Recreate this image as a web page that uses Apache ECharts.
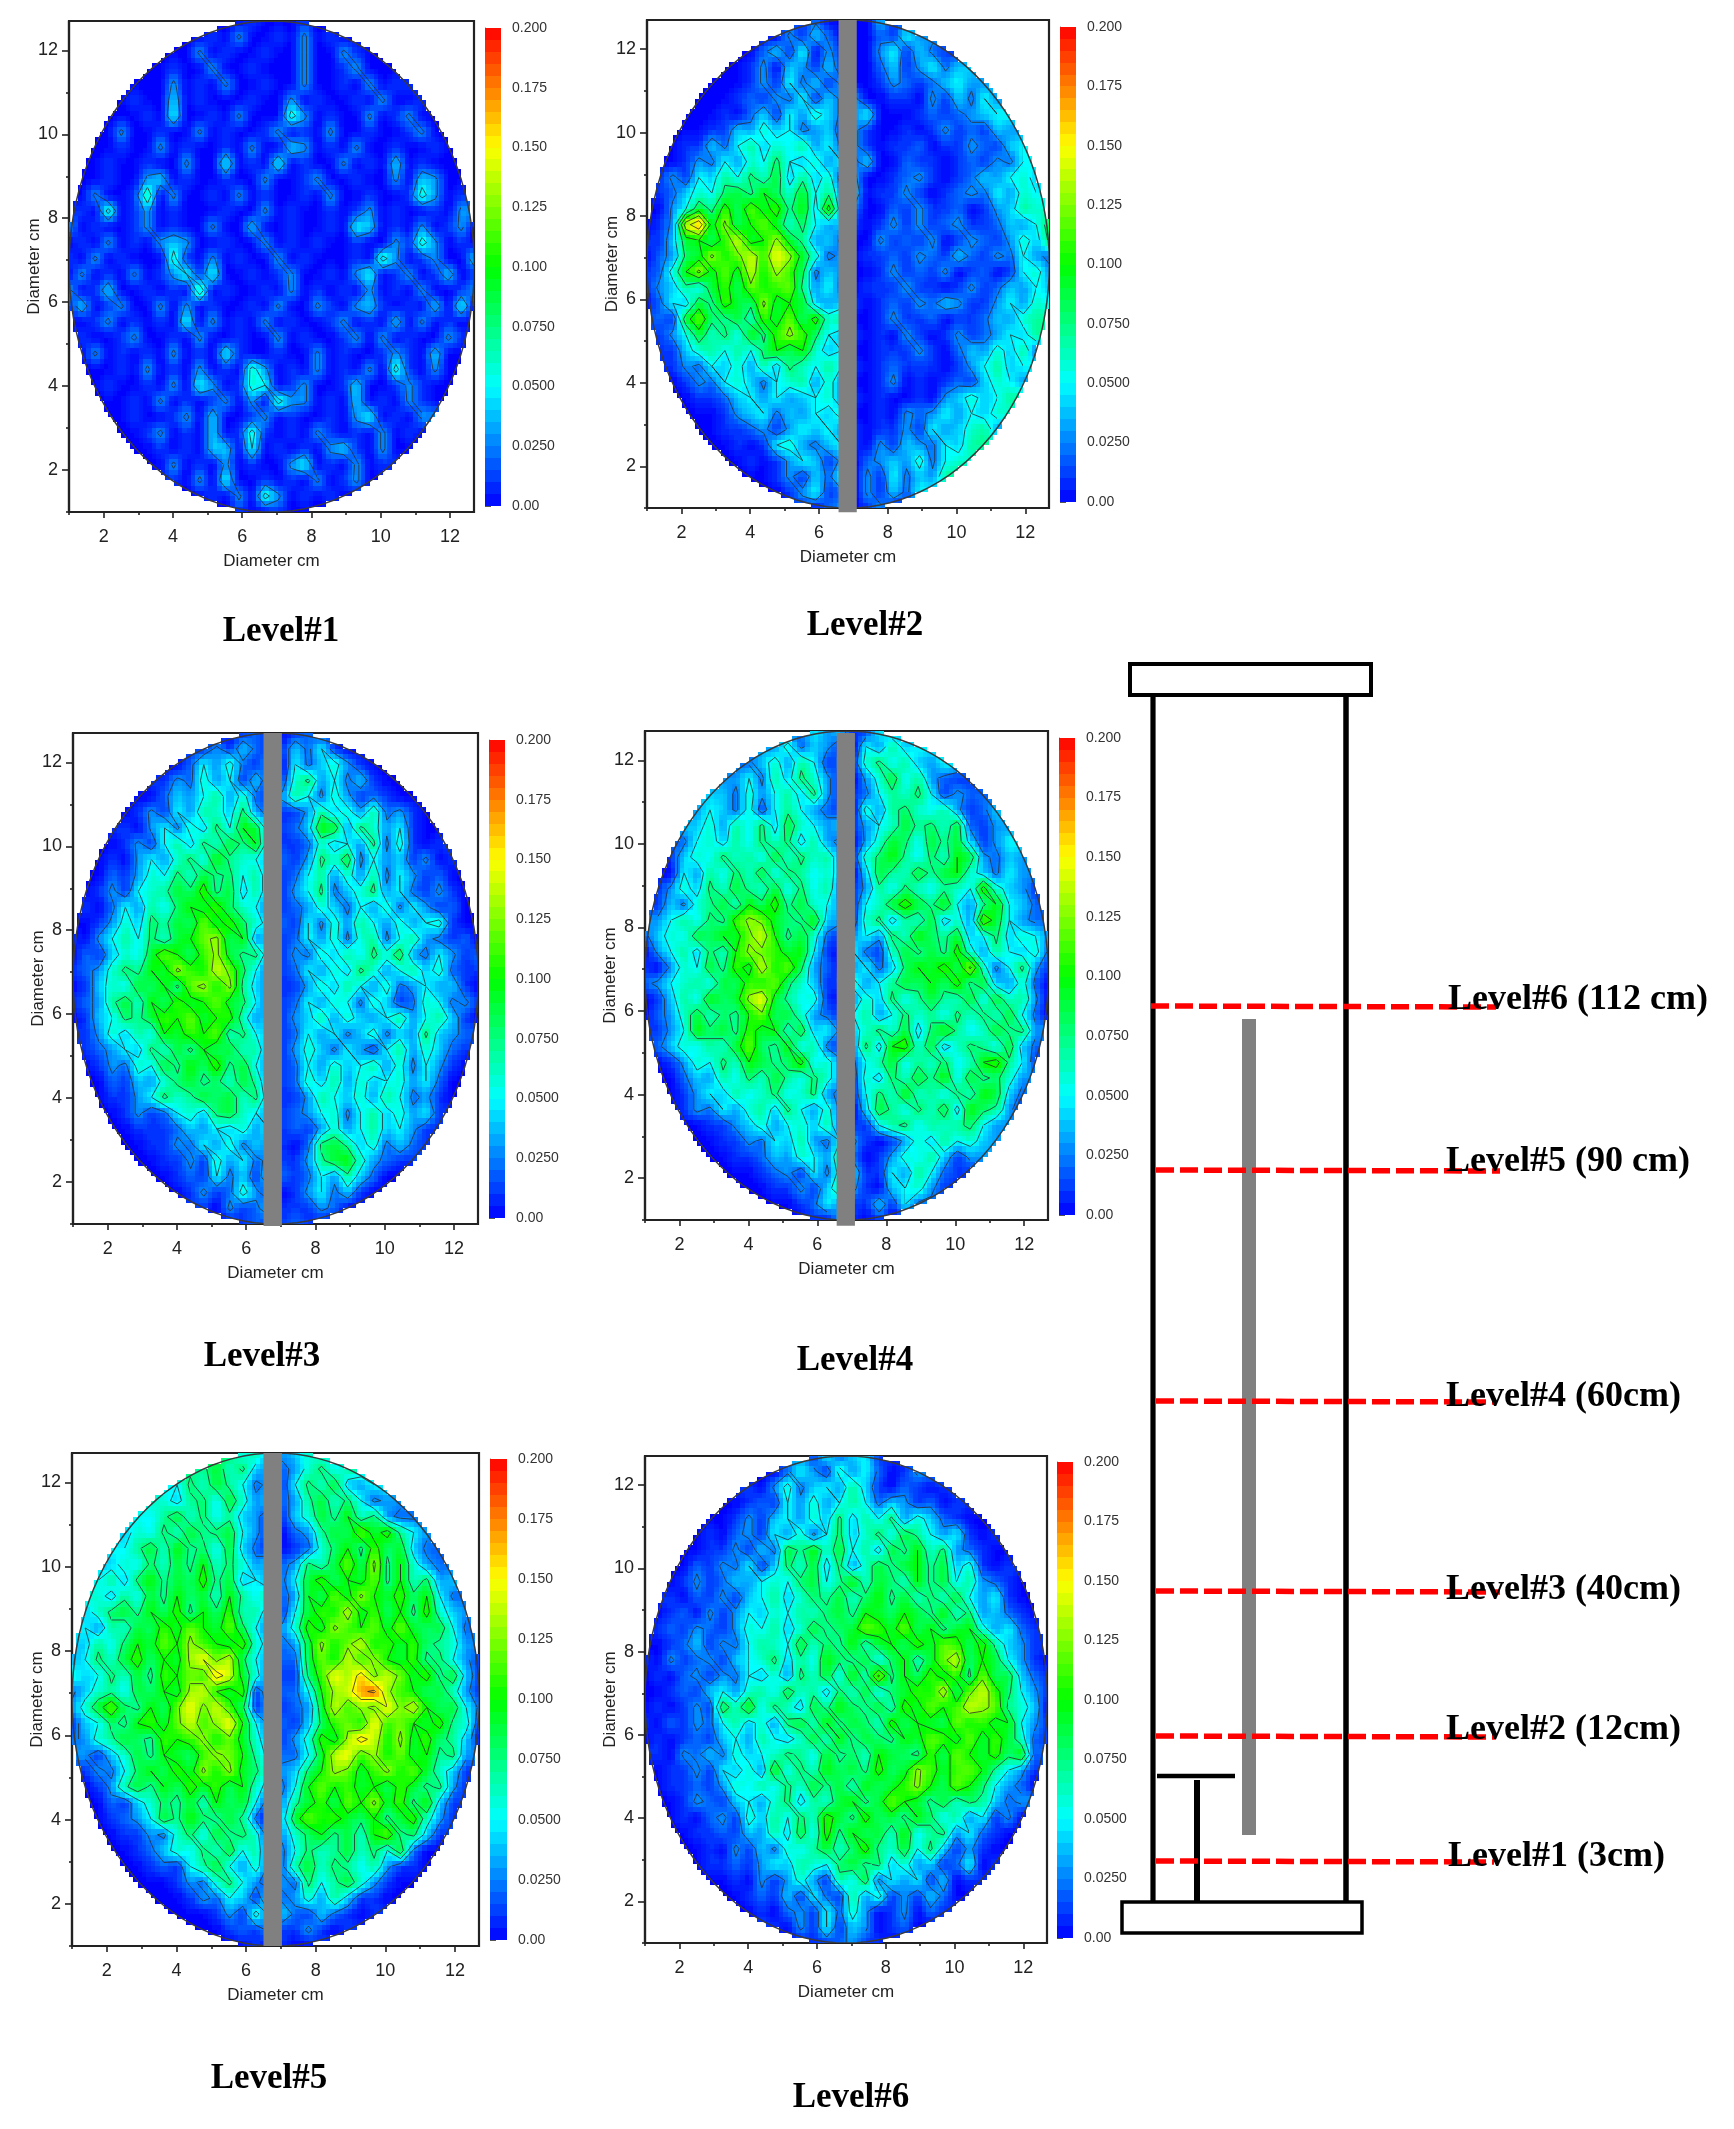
<!doctype html>
<html>
    <head>
        <meta charset="utf-8">
        <title>Gas holdup by level</title>
        <style>html,body{margin:0;background:#fff}#main{width:1734px;height:2129px}</style>
    </head>
    <body>
        <div id="main"></div>
        <script src="https://cdn.jsdelivr.net/npm/echarts@6/dist/echarts.min.js"></script>
        <script>
            // gas holdup, in hundredths. 32 rows, top row first,
            // each row holds only the nodes inside the circle and is centred when drawn
            var level1 = [
                [0,0,1,0,0,0,1,0],
                [0,1,0,3,0,0,1,0,3,0,1,0],
                [0,0,3,0,1,0,0,1,0,0,3,0,0,3,1,0],
                [0,1,0,0,3,0,0,1,0,0,0,3,0,0,1,3,0,0],
                [0,0,3,0,1,0,3,0,0,1,0,0,3,0,0,1,0,3,0,1],
                [0,1,0,0,4,0,1,0,0,0,1,0,0,3,0,1,0,0,1,0,3,0,0,1],
                [0,0,1,0,5,0,0,1,0,3,0,0,0,6,3,0,1,0,0,3,0,1,3,0],
                [0,3,0,0,1,0,0,3,0,1,0,0,1,3,0,1,0,3,0,0,1,0,0,1,3,0],
                [0,0,1,0,0,3,0,1,0,0,1,0,3,0,0,4,3,0,1,0,3,0,0,1,0,0,1,0],
                [0,1,0,0,1,0,0,3,0,0,5,0,1,0,5,0,1,0,0,3,0,1,0,4,0,1,0,0],
                [0,0,1,0,0,3,4,0,1,0,0,1,0,0,3,0,0,1,3,0,0,1,0,0,3,0,4,3,0,0],
                [0,3,0,0,1,7,0,3,0,0,1,0,3,0,1,0,0,1,0,3,0,0,1,0,0,1,6,3,0,1],
                [1,0,6,0,1,3,0,1,0,0,0,1,0,0,3,0,1,0,0,1,0,1,3,0,1,0,0,1,0,3],
                [3,0,1,0,0,1,3,0,1,0,0,3,0,0,4,0,0,1,0,0,1,0,5,4,0,1,0,3,0,1,3,0],
                [0,1,0,3,0,1,0,3,4,3,0,0,1,0,0,3,0,1,0,1,0,0,1,0,0,3,1,6,3,0,1,0],
                [1,0,3,0,1,0,0,0,6,1,0,3,0,1,0,0,3,0,1,0,0,0,1,0,6,3,0,1,3,0,0,4],
                [0,3,0,1,0,3,0,1,3,5,1,5,0,0,1,0,1,3,0,0,1,0,3,5,0,1,3,0,1,4,0,1],
                [3,0,1,4,0,0,1,0,1,0,7,0,1,0,0,1,0,3,0,1,0,1,0,3,0,1,0,3,0,0,1,3],
                [1,4,0,1,3,0,0,3,0,3,0,1,0,0,1,0,3,0,0,3,1,0,3,4,1,0,1,0,4,0,5,0],
                [0,1,3,0,1,0,1,0,5,0,3,0,1,0,3,0,1,0,0,1,3,0,1,0,4,0,3,0,1,0],
                [1,0,0,1,3,0,0,1,0,3,0,0,1,0,0,3,0,1,0,0,1,3,0,3,0,1,0,0,3,1],
                [0,3,0,1,0,1,0,3,0,1,0,5,1,0,0,1,0,0,3,0,1,0,0,1,3,1,0,4,0,0],
                [0,0,1,0,3,0,1,0,3,0,1,0,6,3,0,1,0,3,0,1,0,3,0,6,1,0,3,0],
                [0,1,0,0,1,0,3,0,5,3,0,1,6,5,0,1,3,0,0,1,4,0,0,1,3,1,0,0],
                [0,0,1,0,3,0,1,0,1,3,0,3,0,6,3,3,0,1,0,4,0,1,0,3,1,0],
                [0,1,0,0,1,3,0,4,0,0,1,3,0,1,0,0,1,0,3,5,0,1,0,3],
                [0,0,1,3,0,1,0,4,0,1,6,1,0,1,0,3,1,0,1,0,3,0,1,0],
                [0,1,0,1,0,4,4,0,5,0,1,0,1,0,3,4,1,0,3,0],
                [0,3,0,1,0,3,0,1,0,0,3,5,0,1,0,3,0,1],
                [1,0,3,0,5,0,0,1,0,1,0,3,0,1,3,0],
                [0,1,0,3,0,6,3,0,1,0,1,0],
                [0,1,0,0,1,0,0,0]
            ];
            var level2 = [
                [1,2,0,0,0,0,4,1],
                [0,3,1,4,2,0,0,0,2,1,5,3],
                [0,2,4,1,5,0,3,1,0,0,3,5,1,4,2,1],
                [0,1,3,0,4,3,1,4,1,0,0,2,4,1,3,5,2,4],
                [0,0,1,3,1,5,2,4,1,3,0,0,1,3,2,1,2,4,5,3],
                [0,0,0,1,2,1,3,2,5,1,4,2,3,0,0,1,1,0,3,1,4,2,5,3],
                [0,0,1,0,2,4,1,5,3,6,4,2,3,5,0,0,0,1,2,1,2,3,4,5],
                [0,0,1,1,4,3,6,4,5,2,3,4,1,3,1,0,0,1,0,1,3,1,2,1,4,3],
                [0,1,1,4,2,5,7,4,6,5,7,3,5,2,3,1,0,1,1,2,0,1,1,3,2,1,4,5],
                [0,1,3,2,5,3,6,5,8,5,4,6,3,5,2,4,0,0,2,1,1,0,1,2,1,3,2,5],
                [1,3,1,5,4,7,5,8,6,9,4,7,4,6,1,3,0,0,1,2,3,1,0,1,2,4,3,5,6,4],
                [1,2,4,6,5,8,9,7,10,8,6,9,5,7,3,4,0,1,1,3,1,0,1,2,3,2,5,3,6,5],
                [0,3,5,9,7,11,8,12,9,11,7,10,4,11,3,2,0,0,2,1,3,1,1,2,0,1,3,4,7,6],
                [0,1,3,14,17,9,13,8,10,12,9,6,8,5,3,4,1,0,1,3,1,3,1,2,3,1,1,2,4,3,5,9],
                [1,1,4,9,10,8,11,14,9,10,13,9,7,3,4,2,0,0,3,1,2,1,3,0,1,3,2,1,3,6,4,8],
                [0,2,3,8,9,13,10,12,14,11,15,13,9,6,2,3,0,1,1,2,1,3,2,1,4,2,1,3,2,5,3,2],
                [1,2,6,10,13,9,12,9,14,10,13,11,8,2,4,3,0,0,1,3,1,2,1,3,0,1,2,0,1,5,6,3],
                [1,3,4,7,5,9,11,8,12,10,11,12,7,3,5,2,0,1,1,1,3,1,1,0,1,3,1,2,4,3,5,4],
                [0,2,5,4,9,7,11,9,8,13,9,10,9,4,3,4,1,0,1,2,1,3,2,4,3,1,1,3,5,3,6,5],
                [2,1,9,12,8,7,9,6,11,9,12,8,11,6,7,0,0,1,3,1,1,2,0,1,1,2,4,3,6,7],
                [1,3,5,9,6,8,5,10,7,11,13,11,8,5,4,1,0,1,0,3,1,0,1,3,1,2,3,5,4,7],
                [1,1,4,6,7,5,7,5,8,10,8,10,6,4,5,0,0,1,1,1,3,1,0,2,4,3,6,4,7,2],
                [1,3,2,5,4,6,3,7,4,8,6,5,7,5,1,0,1,2,1,1,1,0,1,3,5,7,4,5],
                [0,1,3,2,5,6,4,2,5,6,7,3,6,3,0,0,1,3,0,1,0,1,2,1,4,6,5,3],
                [0,1,1,2,4,5,3,5,3,4,5,6,3,1,0,1,0,0,1,0,3,4,6,4,5,7],
                [0,0,1,3,4,5,2,4,3,5,4,6,0,0,1,0,3,2,3,5,3,5,4,6],
                [0,0,1,1,2,3,1,3,5,4,5,3,1,0,1,1,3,1,5,3,4,6,7,3],
                [0,1,0,1,5,6,3,2,4,5,1,0,3,1,4,3,2,5,4,7],
                [0,1,0,1,3,5,4,1,3,0,2,3,4,3,6,2,5,6],
                [0,0,1,3,1,4,2,5,0,3,1,5,2,4,3,7],
                [0,1,3,5,1,2,0,3,1,4,2,5],
                [1,0,2,3,0,1,3,0]
            ];
            var level3 = [
                [0,1,2,1,0,1,2,1],
                [1,3,1,4,2,1,1,4,2,5,1,0],
                [0,2,5,3,6,2,1,3,0,5,2,4,6,3,1,0],
                [1,3,2,6,3,5,1,4,1,1,6,8,3,5,2,4,1,0],
                [0,2,4,3,5,7,3,6,2,1,3,7,5,2,6,3,1,2,1,0],
                [0,1,3,1,5,3,7,6,4,8,3,2,1,1,3,7,4,6,3,7,2,3,1,0],
                [1,0,3,5,2,6,4,8,5,10,9,3,1,2,4,10,9,3,8,6,3,5,1,0],
                [0,1,3,1,5,7,4,8,6,9,7,10,3,1,1,2,6,4,5,3,8,2,6,1,0,1],
                [0,1,0,3,5,3,6,8,5,10,7,6,5,4,2,1,3,8,6,9,2,5,3,4,1,3,0,1],
                [0,2,1,3,6,5,8,6,9,7,8,5,7,3,1,2,5,7,3,6,3,7,2,5,3,1,2,0],
                [0,1,3,1,5,6,7,9,8,11,7,9,4,7,3,1,3,5,8,2,4,6,8,3,5,2,1,3,1,0],
                [1,0,2,5,3,7,5,8,10,9,11,8,6,5,2,1,2,3,6,4,2,5,3,6,2,5,3,1,2,0],
                [0,1,3,6,4,8,7,9,8,12,9,11,8,6,4,2,1,5,2,6,3,7,5,3,6,3,5,6,1,0],
                [1,0,3,5,7,5,8,6,9,10,12,13,8,10,3,4,1,2,5,3,6,2,6,7,2,5,7,3,2,1,2,0],
                [0,2,1,4,6,5,9,12,10,8,11,13,9,7,8,3,1,3,2,6,4,7,5,8,6,9,3,2,5,3,1,2],
                [1,2,3,6,8,7,10,9,13,11,10,14,12,8,5,2,1,2,5,3,6,4,8,6,3,5,7,4,6,2,1,1],
                [0,1,4,6,5,9,8,10,7,12,13,10,13,7,4,3,1,1,3,6,4,7,5,3,6,2,3,5,3,4,1,0],
                [1,2,3,7,9,6,10,8,11,9,10,12,9,8,5,2,1,2,5,3,6,5,2,6,4,1,2,6,5,2,3,1],
                [0,1,4,5,8,7,9,11,10,12,9,10,11,6,3,4,1,3,4,7,3,6,4,3,5,7,3,5,7,4,1,0],
                [1,3,6,4,7,5,10,9,11,10,12,6,8,5,4,1,2,5,3,5,2,4,6,2,4,3,8,4,3,2],
                [1,2,3,5,4,8,6,9,7,10,8,9,6,7,2,1,3,6,4,2,5,3,1,5,7,3,6,4,2,1],
                [0,1,3,2,6,5,9,7,10,8,11,7,9,5,3,1,2,5,3,6,4,5,7,3,6,2,5,3,1,0],
                [0,2,1,4,3,6,8,9,7,8,6,9,7,2,1,2,6,4,7,3,6,4,5,6,3,5,2,0],
                [0,1,1,3,5,8,6,7,9,8,9,6,8,3,1,1,3,7,5,4,6,3,7,5,2,3,1,0],
                [0,1,3,1,2,5,6,4,8,9,6,5,3,1,2,3,5,6,2,5,7,4,6,3,5,1],
                [0,1,1,1,2,4,3,5,4,6,3,5,1,2,1,3,6,3,5,7,4,5,3,1],
                [0,0,1,1,3,2,5,3,6,2,4,3,1,0,2,8,9,7,4,6,2,4,2,1],
                [0,1,1,3,1,6,3,5,2,3,1,1,3,7,9,10,6,3,2,1],
                [0,1,2,1,5,2,4,1,5,2,1,2,5,3,7,4,2,0],
                [0,1,3,1,2,6,3,1,0,1,3,5,2,4,1,0],
                [1,0,3,1,2,4,1,1,1,3,2,0],
                [0,1,2,1,1,2,1,0]
            ];
            var level4 = [
                [2,5,3,4,1,1,5,3],
                [3,6,2,4,3,1,0,5,3,7,4,5],
                [2,4,6,3,7,5,1,2,1,6,8,5,7,4,3,5],
                [3,5,2,7,4,8,6,3,1,0,3,6,9,5,7,3,2,1],
                [4,2,6,3,5,7,4,8,3,1,1,2,5,7,6,8,5,1,3,2],
                [3,5,4,2,6,1,5,7,5,3,2,1,0,6,3,7,8,6,5,7,3,1,2,4],
                [4,6,3,7,5,8,4,9,6,5,3,4,1,3,5,6,9,7,8,6,9,2,1,3],
                [2,5,6,4,7,5,8,6,8,4,7,3,2,0,3,6,9,8,5,9,7,9,4,1,3,5],
                [1,4,6,5,8,6,7,5,9,6,8,6,7,3,1,6,8,10,7,5,8,6,10,9,3,2,4,3],
                [0,5,3,7,5,8,6,9,5,8,7,5,6,4,0,4,9,7,6,9,7,9,10,6,4,2,5,3],
                [1,3,6,4,8,6,9,7,6,9,5,8,5,7,2,1,3,7,5,8,6,5,7,6,5,11,6,4,3,1],
                [1,4,2,6,7,9,6,10,8,11,7,9,6,5,3,1,5,6,9,11,9,7,10,5,3,7,10,5,4,2],
                [3,5,7,5,8,7,11,13,12,9,8,7,10,4,3,1,6,8,4,7,6,9,4,6,3,12,9,5,3,2],
                [2,4,6,5,9,8,10,9,12,14,10,7,9,6,2,1,3,5,3,8,6,10,8,7,9,4,5,8,4,6,5,3],
                [0,3,5,7,4,8,6,10,13,12,11,9,10,5,1,0,5,2,1,6,9,7,9,7,11,6,3,7,5,4,6,2],
                [1,0,3,6,5,9,7,11,9,14,10,12,8,3,2,0,3,5,2,4,8,10,9,11,8,13,6,2,5,8,3,1],
                [2,3,5,6,7,5,9,8,11,10,12,8,6,4,1,1,6,3,5,7,9,8,10,8,11,7,9,4,3,6,2,0],
                [0,1,4,7,5,10,8,9,13,15,9,7,5,6,1,0,3,6,4,8,5,7,9,7,6,9,5,9,6,7,3,0],
                [0,2,3,6,9,6,8,7,10,12,8,9,6,3,2,1,5,7,3,5,8,6,7,5,8,6,8,6,9,5,2,0],
                [1,3,5,10,8,9,7,11,9,10,6,9,4,5,2,4,6,8,6,9,4,8,10,7,5,6,9,7,8,3],
                [2,4,6,5,7,6,9,12,8,7,10,5,7,2,1,3,8,4,10,11,6,9,4,6,8,7,5,9,4,2],
                [0,1,3,6,5,8,6,10,9,7,8,11,5,6,3,2,5,7,9,5,7,6,8,5,6,10,11,7,5,1],
                [0,2,4,3,7,5,8,6,9,7,5,8,6,3,1,6,4,8,6,9,7,10,5,9,7,8,6,3],
                [0,1,3,5,4,7,5,6,8,5,6,8,3,2,1,5,8,6,10,6,7,5,8,6,10,9,4,2],
                [0,1,3,2,5,3,6,7,4,8,5,3,6,2,0,4,9,7,5,8,6,9,4,10,8,7,3,1],
                [0,1,1,3,4,6,3,5,6,4,7,2,1,1,5,7,8,5,7,6,7,8,5,3],
                [0,0,1,1,3,2,5,4,7,3,2,5,3,1,0,1,3,6,4,7,5,6,4,3],
                [0,1,1,2,4,3,6,5,3,7,2,0,1,3,6,5,7,4,1,3],
                [0,0,1,2,3,1,5,2,6,4,1,1,5,3,7,5,2,1],
                [0,0,1,1,3,1,4,7,3,1,0,4,5,6,3,1],
                [0,0,1,2,5,3,1,1,4,1,5,2],
                [0,1,0,3,1,0,1,0]
            ];
            var level5 = [
                [8,5,7,3,3,4,6,5],
                [7,9,6,8,4,3,2,3,6,8,5,7],
                [5,8,6,9,7,5,2,3,1,5,8,6,9,4,3,5],
                [6,4,7,8,5,9,6,3,4,2,3,7,9,6,8,5,2,3],
                [5,7,9,6,8,5,7,4,3,1,1,4,6,9,7,10,6,8,3,2],
                [4,6,5,8,6,9,7,8,9,5,3,1,0,2,3,7,9,8,12,9,11,7,5,3],
                [5,7,9,6,10,7,8,5,9,4,2,1,0,1,2,6,8,10,7,11,8,9,4,2],
                [4,6,5,8,6,9,7,10,6,8,6,3,4,2,3,8,6,9,12,8,13,7,10,6,3,2],
                [5,7,4,8,10,7,9,8,11,7,9,4,5,3,2,5,9,11,8,10,9,12,7,10,6,8,3,4],
                [6,4,7,5,9,7,10,8,9,6,10,7,5,7,2,3,10,8,12,9,13,10,9,11,8,10,5,2],
                [4,6,8,9,7,10,8,11,7,10,8,11,6,7,3,1,5,9,11,10,14,9,11,8,10,7,11,6,4,3],
                [5,3,7,6,9,8,11,9,12,10,9,12,8,5,2,3,6,11,9,13,11,10,12,9,12,9,8,9,5,2],
                [4,7,5,8,10,9,12,10,13,11,10,9,11,6,4,2,3,9,13,10,12,14,10,11,9,11,8,7,6,3],
                [3,5,8,6,9,11,8,10,9,13,15,12,14,8,5,3,2,2,9,12,10,14,11,13,10,9,11,7,8,5,3,1],
                [6,4,5,8,6,9,7,11,10,12,11,16,14,9,6,2,1,1,8,11,15,13,16,12,14,12,9,11,7,9,4,1],
                [2,4,6,7,5,9,8,10,9,13,14,10,9,11,1,4,2,2,5,10,13,14,17,18,13,11,10,8,9,6,3,1],
                [3,6,9,12,8,7,10,8,12,15,12,14,11,8,1,3,1,2,3,9,14,11,13,12,15,12,14,10,8,9,5,2],
                [1,4,5,8,7,10,11,9,12,14,11,13,15,10,5,2,2,1,4,8,11,12,10,15,11,12,10,9,11,7,6,1],
                [2,3,6,7,9,8,7,11,10,11,13,10,12,9,6,3,1,3,6,11,9,13,16,14,10,13,9,11,8,7,4,0],
                [3,1,4,6,9,7,10,9,8,11,13,12,10,7,4,2,2,5,9,14,15,11,13,10,12,9,10,7,8,3],
                [1,3,2,5,8,10,8,11,9,13,10,13,9,8,5,3,4,8,10,13,12,9,11,13,10,12,9,6,4,1],
                [0,1,3,7,9,7,10,8,11,9,11,8,10,6,4,2,5,10,12,10,11,9,10,8,11,9,7,8,3,1],
                [0,2,1,4,6,8,7,9,6,10,8,9,5,1,3,7,9,11,8,12,10,13,9,11,7,10,4,1],
                [0,1,2,3,5,9,7,10,8,7,9,7,2,0,4,9,12,10,11,9,8,10,7,9,11,6,3,1],
                [0,1,1,3,2,6,8,5,9,7,8,6,1,3,6,8,10,7,9,6,10,12,7,8,4,1],
                [0,1,2,4,6,5,8,6,9,5,7,1,2,5,8,6,7,9,6,8,5,9,2,0],
                [0,0,1,2,1,5,7,9,5,3,6,2,2,7,9,6,8,7,5,7,3,1,1,0],
                [0,0,1,3,2,6,8,5,3,1,3,2,8,5,7,9,6,3,1,0],
                [0,0,1,3,2,5,4,1,5,2,3,6,3,7,4,1,1,0],
                [0,0,0,1,3,1,6,2,4,2,1,4,2,1,0,1],
                [0,0,1,2,1,3,1,1,3,1,0,1],
                [0,0,1,0,1,0,0,1]
            ];
            var level6 = [
                [3,1,5,2,4,5,1,1],
                [0,2,5,3,1,6,3,5,2,0,1,3],
                [1,0,3,6,2,4,5,3,7,4,1,0,2,1,0,1],
                [0,1,2,1,5,3,6,3,5,7,5,2,4,3,1,2,0,1],
                [0,1,3,1,4,5,3,6,4,8,4,7,5,8,3,6,4,2,1,0],
                [0,1,0,2,3,1,5,3,6,2,5,8,4,6,8,5,9,7,5,3,5,1,0,1],
                [0,1,1,3,1,4,2,9,7,10,6,9,5,7,4,9,7,10,6,8,3,2,1,0],
                [0,2,1,3,2,5,1,4,8,6,9,4,8,3,6,9,7,9,10,7,9,4,6,1,0,1],
                [0,1,3,1,2,4,3,5,6,5,8,9,5,7,10,6,9,8,6,10,7,9,5,7,3,2,1,0],
                [1,0,2,1,3,1,4,5,7,4,6,8,7,9,6,8,10,7,9,6,8,6,9,5,3,5,1,0],
                [0,1,2,0,3,1,3,5,4,6,5,7,6,8,9,7,10,9,8,10,9,7,10,6,8,3,4,2,1,0],
                [1,2,1,3,2,1,3,6,5,7,4,6,9,7,8,9,12,11,9,12,8,10,7,9,10,6,3,5,2,1],
                [0,1,2,4,1,3,2,5,7,6,5,9,6,8,7,10,6,9,10,8,11,9,12,11,8,11,7,4,3,1],
                [1,0,3,1,2,3,1,4,5,6,8,4,7,5,10,8,7,9,5,8,10,6,9,12,14,8,10,9,5,3,1,0],
                [0,1,0,2,3,1,3,2,5,4,6,3,8,6,9,5,10,6,13,7,10,8,11,9,11,7,12,8,9,4,2,1],
                [0,0,1,2,1,4,5,3,6,7,5,9,6,7,4,8,6,9,5,8,9,11,10,14,8,12,14,11,8,5,3,1],
                [0,1,0,1,3,1,9,6,10,5,8,6,4,9,7,10,8,7,9,6,11,9,12,10,11,14,13,12,7,6,4,0],
                [1,0,2,1,3,2,5,7,4,6,3,8,9,6,10,7,9,8,6,11,8,10,9,8,12,10,11,9,10,5,3,1],
                [0,1,0,1,2,1,4,5,3,7,5,4,6,9,6,10,7,9,8,7,10,9,12,11,9,12,9,11,9,6,2,1],
                [1,0,3,2,4,2,6,4,5,6,8,7,5,9,7,8,6,10,9,8,7,11,8,12,10,9,11,8,10,2],
                [0,1,1,3,1,5,4,6,3,10,5,8,6,10,8,9,7,11,8,9,13,11,9,11,12,10,7,5,3,1],
                [0,1,1,2,1,3,6,5,7,5,8,6,9,7,9,6,10,8,9,11,13,10,8,12,10,8,5,3,2,0],
                [0,1,3,2,1,4,5,3,6,8,4,7,6,9,10,7,9,12,10,9,7,9,6,8,7,4,2,3],
                [0,1,0,2,3,1,6,4,7,5,8,6,11,9,7,11,8,9,7,10,8,5,7,3,5,1,3,0],
                [0,1,1,2,1,4,3,7,4,9,5,11,7,10,8,9,6,10,5,7,8,3,5,2,1,0],
                [0,1,0,3,1,4,2,6,5,7,9,6,8,11,7,6,9,5,8,4,1,3,1,0],
                [0,1,1,2,1,3,5,4,7,6,5,8,9,7,8,4,6,3,4,1,2,5,0,1],
                [0,1,0,3,1,3,6,3,1,7,5,9,2,5,3,5,1,4,0,1],
                [0,1,2,1,4,1,5,2,1,7,3,6,1,3,1,4,2,0],
                [0,1,0,2,3,1,5,2,6,3,0,1,3,0,2,1],
                [1,0,3,1,5,1,4,3,0,1,2,0],
                [0,1,1,2,3,1,1,0]
            ];
            var levels = [level1, level2, level3, level4, level5, level6];
            var captions = ['Level#1', 'Level#2', 'Level#3', 'Level#4', 'Level#5', 'Level#6'];
            var colorbarLabels = ['0.00', '0.0250', '0.0500', '0.0750', '0.100', '0.125', '0.150', '0.175', '0.200'];
            var contourLevels = [2.5, 5, 7.5, 10, 12.5, 15, 17.5];
            var majorTicks = [2, 4, 6, 8, 10, 12];
            var minorTicks = [1, 3, 5, 7, 9, 11];
            var columnNames = ['Level#6 (112 cm)', 'Level#5 (90 cm)', 'Level#4 (60cm)', 'Level#3 (40cm)', 'Level#2 (12cm)', 'Level#1 (3cm)'];

            // layout in page pixels
            var panels = [
                {l: 69,  r: 474,  t: 21,   b: 512,  bl: 485,  br: 501,  bt: 28,   bb: 506,  cx: 281, cy: 632},
                {l: 647, r: 1049, t: 20,   b: 508,  bl: 1060, br: 1076, bt: 27,   bb: 502,  cx: 865, cy: 626, rod: [6.57, 7.1, 0.9, 12.7]},
                {l: 73,  r: 478,  t: 733,  b: 1224, bl: 489,  br: 505,  bt: 740,  bb: 1218, cx: 262, cy: 1357, rod: [6.5, 7.03, 0.95, 12.7]},
                {l: 645, r: 1048, t: 731,  b: 1220, bl: 1059, br: 1075, bt: 738,  bb: 1215, cx: 855, cy: 1361, rod: [6.56, 7.09, 0.86, 12.65]},
                {l: 72,  r: 479,  t: 1453, b: 1946, bl: 490,  br: 507,  bt: 1459, bb: 1940, cx: 269, cy: 2079, rod: [6.5, 7.03, 1, 12.7]},
                {l: 645, r: 1047, t: 1456, b: 1943, bl: 1057, br: 1073, bt: 1462, bb: 1938, cx: 851, cy: 2098}
            ];
            var levelLines = [
                {x0: 1151, x1: 1496, y: 1006, ty: 1000, tx: 1448},
                {x0: 1156, x1: 1500, y: 1170, ty: 1162, tx: 1446},
                {x0: 1156, x1: 1494, y: 1401, ty: 1397, tx: 1446},
                {x0: 1156, x1: 1500, y: 1591, ty: 1590, tx: 1446},
                {x0: 1156, x1: 1496, y: 1736, ty: 1730, tx: 1446},
                {x0: 1156, x1: 1494, y: 1861, ty: 1857, tx: 1448}
            ];

            var xMin = 1, xMax = 12.69, yMin = 1, yMax = 12.7;
            var centre = 6.85, radius = 5.85;
            var nodes = 32;
            var step = (12.7 - 1) / (nodes - 1);
            var sub = 3;
            var ramp = ['#0000ff', '#00ffff', '#00ff00', '#ffff00', '#ff0000'];

            var colourCache = {};
            function colourAt(v) {
                var k = Math.round(v / 0.25);
                if (!colourCache[k]) {
                    colourCache[k] = echarts.color.lerp(Math.min(1, k * 0.25 / 20), ramp);
                }
                return colourCache[k];
            }
            function inside(x, y, r) {
                return (x - centre) * (x - centre) + (y - centre) * (y - centre) <= r * r;
            }

            // one quad of the contour map: bilinear fill plus marching squares lines
            function renderQuad(params, api) {
                var x0 = api.value(0), y0 = api.value(1);
                var a = api.value(2), b = api.value(3), c = api.value(4), d = api.value(5);
                var x1 = x0 + step, y1 = y0 - step;
                var p0 = api.coord([x0, y0]), p1 = api.coord([x1, y1]);
                var children = [];
                for (var m = 0; m < sub; m++) {
                    for (var n = 0; n < sub; n++) {
                        var u = (m + 0.5) / sub, w = (n + 0.5) / sub;
                        if (!inside(x0 + u * step, y0 - w * step, radius + 0.04)) continue;
                        var v = (a * (1 - u) + b * u) * (1 - w) + (d * (1 - u) + c * u) * w;
                        var left = Math.round(p0[0] + (p1[0] - p0[0]) * m / sub);
                        var right = Math.round(p0[0] + (p1[0] - p0[0]) * (m + 1) / sub);
                        var top = Math.round(p0[1] + (p1[1] - p0[1]) * n / sub);
                        var bottom = Math.round(p0[1] + (p1[1] - p0[1]) * (n + 1) / sub);
                        children.push({
                            type: 'rect',
                            shape: {x: left, y: top, width: right - left, height: bottom - top},
                            style: {fill: colourAt(v)}
                        });
                    }
                }
                contourLevels.forEach(function (lv) {
                    var pts = [];
                    function edge(va, vb, xa, ya, xb, yb) {
                        if ((va < lv) !== (vb < lv)) {
                            var t = (lv - va) / (vb - va);
                            pts.push([xa + (xb - xa) * t, ya + (yb - ya) * t]);
                        }
                    }
                    edge(a, b, x0, y0, x1, y0);
                    edge(b, c, x1, y0, x1, y1);
                    edge(c, d, x1, y1, x0, y1);
                    edge(d, a, x0, y1, x0, y0);
                    for (var s = 0; s + 1 < pts.length; s += 2) {
                        if (!inside(pts[s][0], pts[s][1], radius) || !inside(pts[s + 1][0], pts[s + 1][1], radius)) continue;
                        var q0 = api.coord(pts[s]), q1 = api.coord(pts[s + 1]);
                        children.push({
                            type: 'line',
                            shape: {x1: q0[0], y1: q0[1], x2: q1[0], y2: q1[1]},
                            style: {stroke: 'rgba(45,45,45,0.8)', lineWidth: 1, fill: null}
                        });
                    }
                });
                return {type: 'group', children: children};
            }

            // rows are stored short, so centre them and repeat the rim value outside the circle
            function fullRows(rows) {
                return rows.map(function (row) {
                    var start = Math.floor((nodes - row.length) / 2);
                    var out = [];
                    for (var i = 0; i < nodes; i++) {
                        out.push(row[Math.max(0, Math.min(row.length - 1, i - start))]);
                    }
                    return out;
                });
            }
            function quadsOf(rows) {
                var full = fullRows(rows), out = [];
                for (var j = 0; j < nodes - 1; j++) {
                    for (var i = 0; i < nodes - 1; i++) {
                        out.push([1 + i * step, 12.7 - j * step, full[j][i], full[j][i + 1], full[j + 1][i + 1], full[j + 1][i]]);
                    }
                }
                return out;
            }

            var outlineAngles = [];
            for (var deg = 0; deg < 360; deg += 3) outlineAngles.push(deg);

            var grid = [], xAxis = [], yAxis = [], series = [], graphic = [];
            var axisFont = {color: '#222', fontSize: 18, fontFamily: 'Liberation Sans'};
            var nameFont = {color: '#222', fontSize: 17, fontFamily: 'Liberation Sans'};
            var lineStyle = {color: '#222', width: 2.2};

            panels.forEach(function (p, k) {
                var g = grid.length;
                grid.push({
                    left: p.l, top: p.t, width: p.r - p.l, height: p.b - p.t,
                    show: true, backgroundColor: '#fff', borderColor: '#222', borderWidth: 2.2
                });
                var xi = xAxis.length, yi = yAxis.length;
                // major ticks and labels on one axis, the short odd ticks on a second one
                xAxis.push({
                    type: 'value', gridIndex: g, position: 'bottom', min: xMin, max: xMax,
                    name: 'Diameter cm', nameLocation: 'middle', nameGap: 41, nameMoveOverlap: false, nameTextStyle: nameFont,
                    splitLine: {show: false}, axisLine: {show: true, onZero: false, lineStyle: lineStyle},
                    axisTick: {show: true, length: 6, customValues: majorTicks, lineStyle: {color: '#222', width: 1.6}},
                    axisLabel: Object.assign({margin: 16, customValues: majorTicks}, axisFont)
                }, {
                    type: 'value', gridIndex: g, position: 'bottom', min: xMin, max: xMax,
                    splitLine: {show: false}, axisLine: {show: false, onZero: false},
                    axisTick: {show: true, length: 3, customValues: minorTicks, lineStyle: {color: '#222', width: 1.6}},
                    axisLabel: {show: false}
                });
                yAxis.push({
                    type: 'value', gridIndex: g, position: 'left', min: yMin, max: yMax,
                    name: 'Diameter cm', nameLocation: 'middle', nameGap: 26, nameMoveOverlap: false, nameTextStyle: nameFont,
                    splitLine: {show: false}, axisLine: {show: true, onZero: false, lineStyle: lineStyle},
                    axisTick: {show: true, length: 7, customValues: majorTicks, lineStyle: {color: '#222', width: 1.6}},
                    axisLabel: Object.assign({margin: 11, customValues: majorTicks}, axisFont)
                }, {
                    type: 'value', gridIndex: g, position: 'left', min: yMin, max: yMax,
                    splitLine: {show: false}, axisLine: {show: false, onZero: false},
                    axisTick: {show: true, length: 3, customValues: minorTicks, lineStyle: {color: '#222', width: 1.6}},
                    axisLabel: {show: false}
                });
                series.push({
                    type: 'custom', xAxisIndex: xi, yAxisIndex: yi, silent: true, animation: false,
                    progressive: 0, clip: true, renderItem: renderQuad, data: quadsOf(levels[k])
                });
                // dark rim of the circle
                series.push({
                    type: 'custom', xAxisIndex: xi, yAxisIndex: yi, silent: true, animation: false,
                    clip: true, data: [[centre, centre]],
                    renderItem: function (params, api) {
                        return {
                            type: 'polygon',
                            shape: {points: outlineAngles.map(function (d) {
                                var r = d * Math.PI / 180;
                                return api.coord([centre + radius * Math.cos(r), centre + radius * Math.sin(r)]);
                            })},
                            style: {fill: null, stroke: '#3a3a3a', lineWidth: 1.5}
                        };
                    }
                });
                if (p.rod) {
                    series.push({
                        type: 'custom', xAxisIndex: xi, yAxisIndex: yi, silent: true, animation: false,
                        clip: false, data: [p.rod],
                        renderItem: function (params, api) {
                            var a = api.coord([api.value(0), api.value(3)]);
                            var b = api.coord([api.value(1), api.value(2)]);
                            return {
                                type: 'rect',
                                shape: {x: a[0], y: a[1], width: b[0] - a[0], height: b[1] - a[1]},
                                style: {fill: '#808080'}
                            };
                        }
                    });
                }

                // colour bar
                var gb = grid.length;
                grid.push({left: p.bl, top: p.bt, width: p.br - p.bl, height: p.bb - p.bt});
                var xb = xAxis.length, yb = yAxis.length;
                xAxis.push({type: 'value', gridIndex: gb, min: 0, max: 1, show: false});
                yAxis.push({
                    type: 'value', gridIndex: gb, position: 'right', min: 0, max: 0.2, interval: 0.025,
                    splitLine: {show: false}, axisLine: {show: true, lineStyle: {color: '#777', width: 1}},
                    axisTick: {show: true, length: 6, lineStyle: {color: '#555', width: 1}},
                    axisLabel: {
                        margin: 11, color: '#333', fontSize: 14, fontFamily: 'Liberation Sans',
                        formatter: function (v) { return colorbarLabels[Math.round(v / 0.025)]; }
                    }
                });
                var bands = [];
                for (var c = 0; c < 40; c++) bands.push([0, c * 0.005, 1, (c + 1) * 0.005]);
                series.push({
                    type: 'custom', xAxisIndex: xb, yAxisIndex: yb, silent: true, animation: false, clip: false,
                    data: bands,
                    renderItem: function (params, api) {
                        var a = api.coord([0, api.value(3)]), b = api.coord([1, api.value(1)]);
                        var t = Math.round(a[1]), bot = Math.round(b[1]);
                        return {
                            type: 'rect',
                            shape: {x: a[0], y: t, width: b[0] - a[0], height: bot - t},
                            style: {fill: colourAt((api.value(1) + api.value(3)) * 50)}
                        };
                    }
                });

                graphic.push({
                    type: 'text', x: p.cx, y: p.cy,
                    style: {text: captions[k], fontFamily: 'Liberation Serif', fontWeight: 'bold', fontSize: 35, fill: '#000', textAlign: 'center', textVerticalAlign: 'middle'}
                });
            });

            // the column sketch on the right
            function box(x0, y0, x1, y1, w) {
                return {type: 'rect', shape: {x: x0, y: y0, width: x1 - x0, height: y1 - y0}, style: {fill: '#fff', stroke: '#000', lineWidth: w}};
            }
            function bar(x0, y0, x1, y1, w) {
                return {type: 'line', shape: {x1: x0, y1: y0, x2: x1, y2: y1}, style: {stroke: '#000', lineWidth: w}};
            }
            graphic.push(
                bar(1153, 696, 1153, 1901, 5.2),
                bar(1346, 696, 1346, 1901, 5.5),
                box(1130, 664, 1371, 695, 4),
                box(1122, 1902, 1362, 1933, 3.5),
                {type: 'rect', shape: {x: 1242, y: 1019, width: 14, height: 816}, style: {fill: '#808080'}},
                bar(1157, 1776, 1235, 1776, 4.4),
                bar(1197, 1780, 1197, 1901, 6)
            );
            levelLines.forEach(function (l, i) {
                graphic.push({
                    type: 'line', shape: {x1: l.x0, y1: l.y, x2: l.x1, y2: l.y + 1},
                    style: {stroke: '#ff0000', lineWidth: 5.5, lineDash: [18, 6]}
                });
                graphic.push({
                    type: 'text', x: l.tx, y: l.ty,
                    style: {text: columnNames[i], fontFamily: 'Liberation Serif', fontWeight: 'bold', fontSize: 36, fill: '#000', textAlign: 'left', textVerticalAlign: 'middle'}
                });
            });

            var myChart = echarts.init(document.getElementById('main'), null, {renderer: 'canvas'});
            myChart.setOption({
                animation: false,
                backgroundColor: '#fff',
                grid: grid,
                xAxis: xAxis,
                yAxis: yAxis,
                series: series,
                graphic: {elements: graphic}
            });
        </script>
    </body>
</html>
